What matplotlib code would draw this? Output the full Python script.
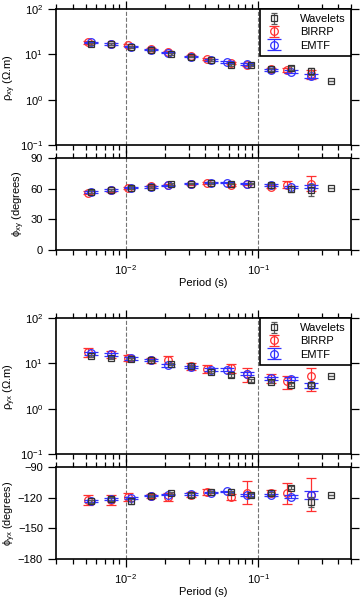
import matplotlib
matplotlib.use("Agg")
import matplotlib.pyplot as plt
import numpy as np

plt.rcParams['font.family'] = ['Liberation Sans', 'DejaVu Sans']
plt.rcParams['font.size'] = 8
plt.rcParams['mathtext.fontset'] = 'custom'
plt.rcParams['mathtext.rm'] = 'Liberation Sans'
plt.rcParams['mathtext.it'] = 'Liberation Sans:italic'
plt.rcParams['mathtext.default'] = 'regular'

# periods (s)
per_wav = [0.0055, 0.0078, 0.011, 0.0156, 0.022, 0.031, 0.044, 0.0625, 0.088, 0.125, 0.177, 0.25, 0.354]
per_bir = [0.0052, 0.0078, 0.01035, 0.0156, 0.0209, 0.031, 0.041, 0.0625, 0.0822, 0.125, 0.165, 0.25]
per_emt = [0.0055, 0.0078, 0.011, 0.0156, 0.0209, 0.031, 0.044, 0.0582, 0.0822, 0.125, 0.177, 0.25]

# rho_xy (ohm.m)
rxy_wav = [16.6, 17.1, 14.5, 12.6, 10.3, 8.85, 7.5, 5.7, 5.7, 4.67, 5.06, 4.28, 2.62]
rxy_wav_err = [0.8, 0.6, 0.6, 0.5, 0.4, 0.3, 0.3, 0.3, 0.3, 0.3, 0.5, 0.7, 0.0]
rxy_bir = [18.4, 17.0, 15.8, 12.9, 11.1, 9.2, 8.1, 6.4, 5.9, 4.67, 4.5, 3.7]
rxy_bir_err = [1.2, 0.8, 0.8, 0.6, 0.5, 0.4, 0.4, 0.4, 0.4, 0.4, 0.5, 0.8]
rxy_emt = [18.4, 17.0, 14.7, 12.6, 10.9, 8.85, 7.5, 6.76, 6.1, 4.5, 4.13, 3.3]
rxy_emt_err = [0.6, 0.5, 0.5, 0.4, 0.3, 0.3, 0.3, 0.3, 0.3, 0.2, 0.3, 0.3]

# phi_xy (degrees)
pxy_wav = [57.1, 58.7, 61.0, 61.6, 64.9, 64.9, 65.5, 64.9, 64.9, 63.3, 59.5, 59.0, 61.0]
pxy_wav_err = [1.5, 1.2, 1.2, 1.0, 1.0, 0.8, 0.8, 0.8, 0.8, 2.5, 3.0, 6.0, 0.0]
pxy_bir = [56.0, 58.4, 60.4, 62.3, 63.9, 64.9, 65.9, 63.6, 64.3, 61.9, 63.9, 65.0]
pxy_bir_err = [1.5, 1.2, 1.2, 1.0, 1.0, 1.0, 1.0, 1.0, 1.0, 1.5, 3.6, 7.0]
pxy_emt = [56.7, 58.7, 61.0, 61.6, 63.3, 64.9, 65.9, 65.9, 64.9, 63.3, 61.9, 61.9]
pxy_emt_err = [0.8, 0.6, 0.6, 0.6, 0.6, 0.6, 0.6, 0.6, 0.6, 0.8, 1.0, 1.5]

# rho_yx (ohm.m)
ryx_wav = [14.5, 13.1, 12.3, 11.6, 9.8, 8.9, 6.5, 5.4, 4.2, 3.9, 3.4, 3.4, 5.2]
ryx_wav_err = [0.8, 0.7, 0.6, 0.5, 0.4, 0.4, 0.3, 0.3, 0.3, 0.3, 0.3, 0.3, 0.0]
ryx_bir = [18.0, 16.0, 13.3, 11.6, 12.0, 8.6, 7.5, 7.9, 5.8, 4.7, 4.0, 5.2]
ryx_bir_err = [4.0, 3.0, 2.0, 1.2, 2.5, 1.5, 1.5, 1.8, 1.9, 1.0, 1.3, 2.7]
ryx_emt = [16.6, 15.8, 12.9, 11.6, 9.0, 8.4, 7.2, 7.2, 5.9, 4.7, 4.6, 3.3]
ryx_emt_err = [1.2, 1.0, 0.8, 0.6, 0.6, 0.5, 0.5, 0.5, 0.5, 0.4, 0.4, 0.4]

# phi_yx (degrees)
pyx_wav = [-123.6, -121.3, -123.0, -118.4, -115.7, -117.1, -114.1, -114.5, -117.1, -115.7, -110.2, -124.0, -117.1]
pyx_wav_err = [1.5, 1.5, 3.0, 1.0, 1.0, 2.0, 1.0, 1.0, 2.0, 1.5, 1.5, 5.0, 0.0]
pyx_bir = [-122.3, -122.3, -119.7, -118.4, -119.0, -117.0, -114.5, -119.7, -115.1, -115.7, -115.7, -117.0]
pyx_bir_err = [5.0, 5.0, 4.0, 2.0, 4.0, 2.5, 3.0, 3.0, 11.0, 3.0, 10.0, 16.0]
pyx_emt = [-123.6, -121.3, -120.3, -118.0, -117.0, -116.4, -115.0, -113.8, -117.7, -117.0, -119.0, -117.0]
pyx_emt_err = [1.0, 1.0, 1.0, 0.8, 0.8, 0.8, 0.8, 0.8, 1.0, 1.0, 1.5, 4.0]

c_wav = '#333333'
c_bir = '#ff3030'
c_emt = '#3030ff'


def style_axis(ax, xlabels):
    ax.set_xscale('log')
    ax.set_xlim(0.003, 0.5)
    for v in [0.01, 0.1]:
        ax.axvline(v, color='0.45', ls='--', lw=0.8, zorder=0)
    ax.tick_params(which='both', direction='out', top=True, right=True, labelsize=8)
    ax.tick_params(which='major', length=6, width=0.9)
    ax.tick_params(which='minor', length=3.5, width=0.9)
    ax.tick_params(axis='y', which='minor', left=False, right=False)
    for s in ax.spines.values():
        s.set_linewidth(1.2)
    if not xlabels:
        ax.tick_params(labelbottom=False)
    else:
        ax.set_xlabel('Period (s)', fontsize=8, labelpad=1)


def plot_three(ax, yb, eb, ye, ee, yw, ew, legend=False):
    ax.errorbar(per_bir, yb, yerr=eb, fmt='o', ms=5.5, mfc='none', mec=c_bir, mew=0.9,
                ecolor=c_bir, elinewidth=0.9, capsize=3.5, capthick=0.9, label='BIRRP', zorder=3)
    ax.errorbar(per_emt, ye, yerr=ee, fmt='o', ms=5.5, mfc='none', mec=c_emt, mew=0.9,
                ecolor=c_emt, elinewidth=0.9, capsize=5, capthick=0.9, label='EMTF', zorder=4)
    ax.errorbar(per_wav, yw, yerr=ew, fmt='s', ms=4, mfc='none', mec=c_wav, mew=0.9,
                ecolor='0.35', elinewidth=0.9, capsize=2.5, capthick=0.9, label='Wavelets', zorder=5)
    if legend:
        h, l = ax.get_legend_handles_labels()
        order = [2, 0, 1]
        leg = ax.legend([h[i] for i in order], [l[i] for i in order], loc='upper right',
                        borderaxespad=0, fancybox=False, edgecolor='black', framealpha=1,
                        fontsize=8, handlelength=1.6, handletextpad=1.6, labelspacing=0.3,
                        borderpad=0.45)
        leg.get_frame().set_linewidth(1.2)


fig = plt.figure(figsize=(3.6, 5.98), dpi=100)
left, width = 0.156, 0.819

ax1 = fig.add_axes([left, 0.7575, width, 0.2274])
plot_three(ax1, rxy_bir, rxy_bir_err, rxy_emt, rxy_emt_err, rxy_wav, rxy_wav_err, legend=True)
ax1.set_yscale('log')
ax1.set_ylim(0.1, 100)
ax1.set_ylabel(r'$\rho_{xy}$ ($\Omega$.m)')
ax1.yaxis.set_label_coords(-0.128, 0.5)
style_axis(ax1, False)

ax2 = fig.add_axes([left, 0.582, width, 0.1538])
plot_three(ax2, pxy_bir, pxy_bir_err, pxy_emt, pxy_emt_err, pxy_wav, pxy_wav_err)
ax2.set_ylim(0, 90)
ax2.set_yticks([0, 30, 60, 90])
ax2.set_ylabel(r'$\phi_{xy}$ (degrees)')
ax2.yaxis.set_label_coords(-0.1, 0.5)
style_axis(ax2, True)

ax3 = fig.add_axes([left, 0.2408, width, 0.2274])
plot_three(ax3, ryx_bir, ryx_bir_err, ryx_emt, ryx_emt_err, ryx_wav, ryx_wav_err, legend=True)
ax3.set_yscale('log')
ax3.set_ylim(0.1, 100)
ax3.set_ylabel(r'$\rho_{yx}$ ($\Omega$.m)')
ax3.yaxis.set_label_coords(-0.128, 0.5)
style_axis(ax3, False)

ax4 = fig.add_axes([left, 0.0652, width, 0.1538])
plot_three(ax4, pyx_bir, pyx_bir_err, pyx_emt, pyx_emt_err, pyx_wav, pyx_wav_err)
ax4.set_ylim(-180, -90)
ax4.set_yticks([-180, -150, -120, -90])
ax4.set_ylabel(r'$\phi_{yx}$ (degrees)', fontsize=7.8)
ax4.yaxis.set_label_coords(-0.13, 0.5)
style_axis(ax4, True)

fig.savefig('out.png', dpi=100)
